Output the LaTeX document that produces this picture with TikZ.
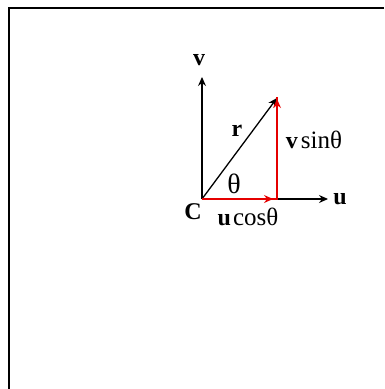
\documentclass[tikz,border=0pt]{standalone}
\usepackage{fontspec}
\setmainfont{Liberation Serif}
\usetikzlibrary{arrows.meta}
\newcommand{\bigtxt}[1]{{\fontsize{25}{27}\selectfont #1}}
\begin{document}
\begin{tikzpicture}[x=1pt,y=-1pt,
  axis/.style={line width=1.3pt,-{Stealth[length=9pt,width=8pt,inset=3pt]}},
  redvec/.style={axis,red!90!black},
  lab/.style={font=\fontsize{24}{26}\selectfont,inner sep=0pt}]
\useasboundingbox (0,0) rectangle (384,389);
\coordinate (tl) at (8.5,7.5);
\coordinate (tr) at (384,7.5);
\coordinate (bl) at (8.5,389);
\draw[line width=2pt] (tr) -- (tl) -- (bl);
\coordinate (C) at (202,199);
\coordinate (vend) at (202,77);
\coordinate (uend) at (328,199);
\coordinate (rend) at (277,98);
\coordinate (foot) at (277,199);
\coordinate (top) at (277,97);
\draw[axis] (C) -- (vend);
\draw[axis] (C) -- (uend);
\draw[axis] (C) -- (rend);
\draw[red!90!black,line width=1.3pt] (C) -- (foot) -- (top);
\draw[redvec] (C) -- (273,199);
\draw[redvec] (foot) -- (277,99);
\node[lab] (vl) at (199,60) {\textbf{v}};
\node[lab] (ul) at (340,199) {\textbf{u}};
\node[lab] (rl) at (237,131) {\textbf{r}};
\node[lab] (th) at (234,184) {{\fontsize{28}{30}\selectfont θ}};
\node[lab] (vs) at (314,140) {\textbf{v}\bigtxt{\kern3pt sinθ}};
\node[lab] (Cl) at (193,212) {\textbf{C}};
\node[lab] (uc) at (248,217) {\textbf{u}\bigtxt{\kern2pt cosθ}};
\end{tikzpicture}
\end{document}
